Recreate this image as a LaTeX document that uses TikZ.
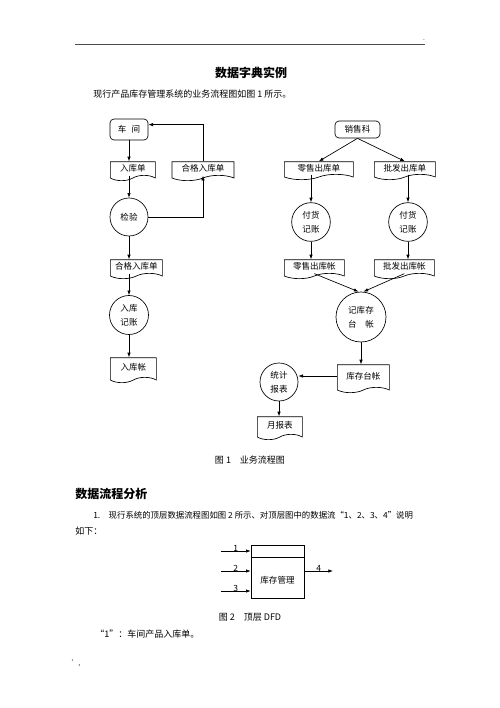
\documentclass[tikz,border=0pt]{standalone}
\usepackage{fontspec}
\setmainfont{Noto Sans CJK SC}
\usetikzlibrary{shapes.symbols,arrows.meta,calc,positioning}

\tikzset{every picture/.style={line width=0.5pt}}
\tikzset{
	box/.style={draw, rounded corners=3pt, inner sep=0pt},
	doc/.style={draw, tape, tape bend top=none, tape bend height=4pt, inner sep=0pt, anchor=west},
	proc/.style={draw, circle, inner sep=0pt, align=center},
	flow/.style={-{Latex[length=3.5pt,width=2.6pt]}},
	txt/.style={inner sep=0pt, font=\fontsize{6.75}{9}\selectfont},
	headtxt/.style={inner sep=0pt, font=\fontsize{9}{11}\selectfont\bfseries}
}

\begin{document}
\begin{tikzpicture}[x=0.75pt,y=0.75pt,yscale=-1,xscale=1, font=\fontsize{6.4}{10.5}\selectfont]
	\useasboundingbox (0,0) rectangle (500,708);

	% page header
	\draw [line width=0.6pt, black!70] (75,44) -- (425,44);
	\node [inner sep=0pt, font=\tiny] (dot1) at (424,40) {.};
	\node [headtxt] (title) at (251,73) {数据字典实例};
	\node [txt, anchor=west] (p1) at (93,94) {现行产品库存管理系统的业务流程图如图 1 所示。};

	% left column
	\node [box, minimum width=28.5pt, minimum height=15.75pt] (cj) at (129,129.5) {车\hspace{0.6em}间};
	\node [doc, minimum width=33.75pt, minimum height=14.25pt] (rkd) at (110,168.5) {入库单};
	\node [doc, anchor=center, minimum width=46.5pt, minimum height=14.25pt] (hg) at (203,168.5) {合格入库单};
	\node [proc, minimum size=28.5pt] (jy) at (129,217) {检验};
	\node [doc, minimum width=39pt, minimum height=14.25pt] (hg2) at (110,266.5) {合格入库单};
	\node [proc, minimum size=29.25pt] (rkjz) at (129,315) {入库\\记账};
	\node [doc, minimum width=34.5pt, minimum height=18.75pt] (rkz) at (110,367.5) {入库帐};

	\draw [flow] (cj.south) -- (cj.south |- rkd.north);
	\draw [flow] (hg.north) |- ($(cj.east)!0.45!(cj.north east)$);
	\draw [flow] (jy.north |- rkd.south) -- (jy.north);
	\draw [flow] (jy.east) -| (hg.south);
	\draw [flow] (jy.south) -- (jy.south |- hg2.north);
	\draw [flow] (rkjz.north |- hg2.south) -- (rkjz.north);
	\draw [flow] (rkjz.south) -- (rkjz.south |- rkz.north);

	% right column
	\node [box, minimum width=33.75pt, minimum height=12.75pt] (xsk) at (357.5,129.5) {销售科};
	\node [doc, minimum width=51.75pt, minimum height=13.5pt] (lsd) at (284,168) {零售出库单};
	\node [doc, minimum width=45.75pt, minimum height=13.5pt] (pfd) at (374,168) {批发出库单};
	\node [proc, minimum size=29pt] (fh1) at (311,222) {付货\\记账};
	\node [proc, minimum size=29pt] (fh2) at (408,222) {付货\\记账};
	\node [doc, minimum width=45pt, minimum height=14.25pt] (lsz) at (284,266.5) {零售出库帐};
	\node [doc, minimum width=45pt, minimum height=14.25pt] (pfz) at (374,266.5) {批发出库帐};
	\node [proc, minimum size=37.5pt] (jkc) at (361,317) {记库存\\台\hspace{1em}帐};
	\node [doc, minimum width=39pt, minimum height=21pt] (kctz) at (337,376) {库存台帐};
	\node [proc, minimum size=28.5pt] (tj) at (279,382) {统计\\报表};
	\node [doc, minimum width=33.75pt, minimum height=17.25pt] (ybb) at (257,425.5) {月报表};

	\draw [flow] (xsk.south) -- (lsd.north);
	\draw [flow] (xsk.south) -- (pfd.north);
	\draw [flow] (fh1.north |- lsd.south) -- (fh1.north);
	\draw [flow] (fh2.north |- pfd.south) -- (fh2.north);
	\draw [flow] (fh1.south) -- (fh1.south |- lsz.north);
	\draw [flow] (fh2.south) -- (fh2.south |- pfz.north);
	\draw [flow] (lsz.south) -- ($(jkc.north)+(-2.5,0)$);
	\draw [flow] (pfz.south) -- ($(jkc.north)+(2.5,0)$);
	\draw [flow] (jkc.south) -- (jkc.south |- kctz.north);
	\draw [flow] (kctz.west) -- (kctz.west -| tj.east);
	\draw [flow] (tj.south) -- (tj.south |- ybb.north);

	\node [txt] (cap1) at (250,460) {图 1\quad 业务流程图};

	% section 2
	\node [headtxt, anchor=west] (h2) at (75,494) {数据流程分析};
	\node [txt, anchor=west, font=\fontsize{6.3}{9}\selectfont] (p2) at (93,515) {1.\quad 现行系统的顶层数据流程图如图 2 所示、对顶层图中的数据流“1、2、3、4”说明};
	\node [txt, anchor=west] (p3) at (75,531) {如下：};

	% top level DFD
	\node [draw, inner sep=0pt, minimum width=39.75pt, minimum height=39.75pt] (kcgl) at (277.5,571.5) {};
	\node [inner sep=0pt] (kcglt) at (277.5,580) {库存管理};
	\draw ($(kcgl.north west)!0.245!(kcgl.south west)$) -- ($(kcgl.north east)!0.245!(kcgl.south east)$);
	\coordinate (in1) at (221,551);
	\coordinate (in2) at (221,571);
	\coordinate (in3) at (221,591);
	\coordinate (out4) at (333,571);
	\draw [flow] (in1) -- (in1 -| kcgl.west) node [midway, above=-1pt, inner sep=0.5pt] (l1) {1};
	\draw [flow] (in2) -- (in2 -| kcgl.west) node [midway, above=-1pt, inner sep=0.5pt] (l2) {2};
	\draw [flow] (in3) -- (in3 -| kcgl.west) node [midway, above=-1pt, inner sep=0.5pt] (l3) {3};
	\draw [flow] (kcgl.east |- out4) -- (out4) node [midway, above=-1pt, inner sep=0.5pt] (l4) {4};

	\node [txt] (cap2) at (250,617) {图 2\quad 顶层 DFD};
	\node [txt, anchor=west] (p4) at (95,634) {“1”：车间产品入库单。};
	\node [inner sep=0pt, font=\tiny] (dot2) at (76,663) {',};

\end{tikzpicture}
\end{document}
